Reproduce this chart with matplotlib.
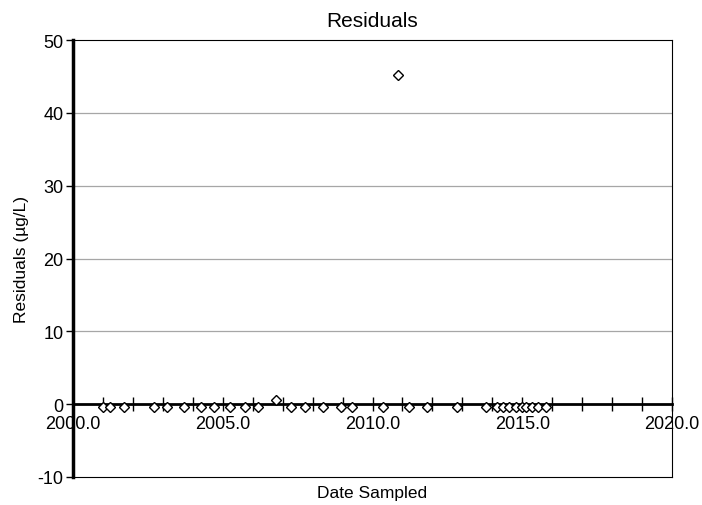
import matplotlib
matplotlib.use("Agg")
import matplotlib.pyplot as plt
from matplotlib.ticker import MultipleLocator, FormatStrFormatter

plt.rcParams["font.family"] = ["Liberation Sans", "DejaVu Sans"]
plt.rcParams["axes.unicode_minus"] = False

# sample dates (decimal years) and residuals (ug/L)
dates = [2000.99, 2001.24, 2001.70, 2002.71, 2003.13, 2003.72, 2004.28, 2004.72,
         2005.24, 2005.74, 2006.19, 2006.78, 2007.28, 2007.75, 2008.34, 2008.95,
         2009.32, 2010.36, 2010.85, 2011.23, 2011.83, 2012.81, 2013.79, 2014.15,
         2014.37, 2014.57, 2014.78, 2014.98, 2015.13, 2015.32, 2015.54, 2015.78]
resid = [-0.4, -0.4, -0.4, -0.4, -0.4, -0.4, -0.4, -0.4,
         -0.4, -0.4, -0.4, 0.6, -0.4, -0.4, -0.4, -0.4,
         -0.4, -0.4, 45.2, -0.4, -0.4, -0.4, -0.4, -0.4,
         -0.4, -0.4, -0.4, -0.4, -0.4, -0.4, -0.4, -0.4]

fig = plt.figure(figsize=(7.02, 5.06), dpi=100)
ax = fig.add_axes([73 / 702, 28 / 506, 599 / 702, 437 / 506])

ax.plot(dates, resid, linestyle="none", marker="D", markersize=5.5,
        markerfacecolor="white", markeredgecolor="black", markeredgewidth=1.0,
        zorder=4, clip_on=False)

ax.set_xlim(2000, 2020)
ax.set_ylim(-10, 50)
ax.set_yticks(range(-10, 51, 10))
ax.xaxis.set_major_locator(MultipleLocator(5))
ax.xaxis.set_minor_locator(MultipleLocator(1))
ax.xaxis.set_major_formatter(FormatStrFormatter("%.1f"))

for y in (10, 20, 30, 40):
    ax.axhline(y, color="#a6a6a6", linewidth=0.9, zorder=1)
# frame line along the bottom of the plot area
ax.axhline(-10, color="black", linewidth=0.8, zorder=2, clip_on=False)

ax.spines["bottom"].set_position(("data", 0))
ax.spines["bottom"].set_linewidth(2.0)
ax.spines["left"].set_linewidth(2.5)
ax.spines["top"].set_linewidth(0.8)
ax.spines["right"].set_linewidth(0.8)

ax.tick_params(axis="x", which="both", direction="inout", width=1.0,
               labelsize=13, pad=3)
ax.tick_params(axis="x", which="major", length=10)
ax.tick_params(axis="x", which="minor", length=10)
ax.tick_params(axis="y", direction="out", length=5, width=1.0, labelsize=13, pad=2)

ax.set_title("Residuals", fontsize=15, pad=10)
ax.set_ylabel("Residuals (\u00b5g/L)", fontsize=12.5, labelpad=6)
fig.text(ax.get_position().x0 + ax.get_position().width / 2, 12 / 506,
         "Date Sampled", ha="center", va="center", fontsize=12.5)

fig.savefig("out.png", dpi=100, facecolor="white")
